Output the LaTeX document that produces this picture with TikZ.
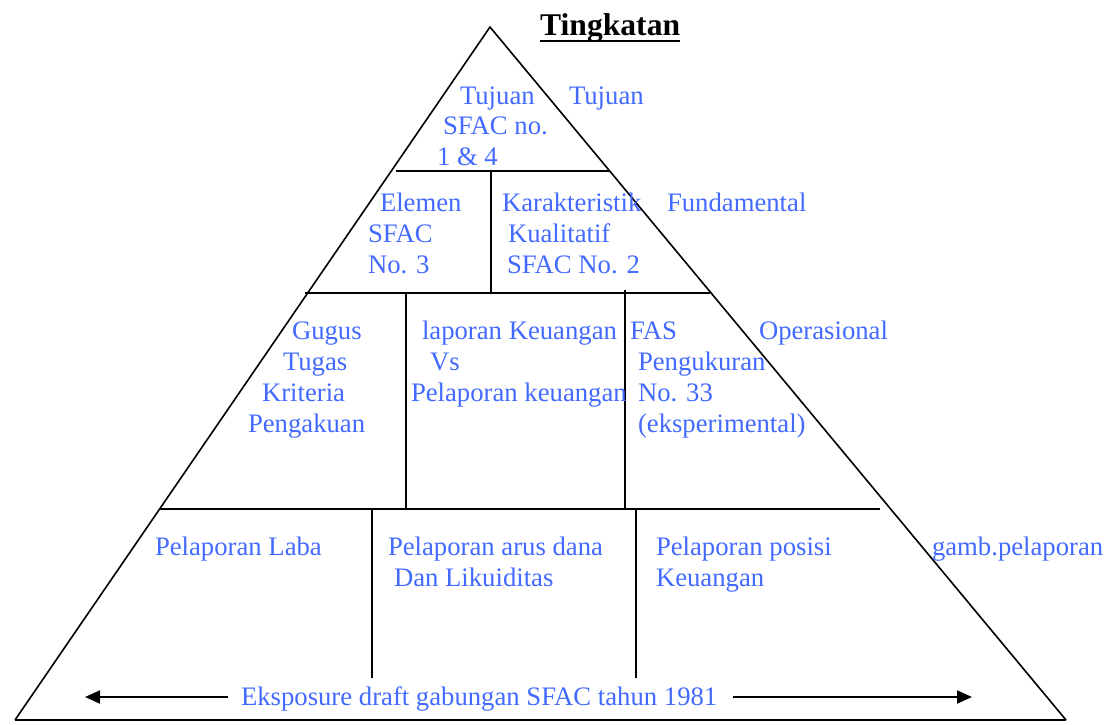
\documentclass[tikz,border=0pt]{standalone}
\usepackage{fontspec}
\setmainfont{Liberation Serif}
\usetikzlibrary{arrows.meta}
\definecolor{txtblue}{RGB}{66,106,255}
\tikzset{
  lbl/.style={anchor=base west, inner sep=0pt, outer sep=0pt, text=txtblue, font=\fontsize{26.7}{30}\selectfont},
  edge/.style={draw=black, line width=1.6pt},
  hline/.style={draw=black, line width=2.4pt},
  vline/.style={draw=black, line width=1.6pt},
  arr/.style={draw=black, line width=2pt, -{Triangle[length=15pt,width=13pt]}}
}
\begin{document}
\begin{tikzpicture}[x=1pt,y=-1pt]
\useasboundingbox (0,0) rectangle (1109,724);
% triangle
\coordinate (apex) at (490,27);
\coordinate (bl) at (15,720);
\coordinate (br) at (1066,720);
\draw[edge] (bl) -- (apex) -- (br);
\draw[hline] (bl) -- (br);
% horizontal dividers
\coordinate (h1l) at (396,171); \coordinate (h1r) at (610,171);
\coordinate (h2l) at (305,293); \coordinate (h2r) at (710,293);
\coordinate (h3l) at (160,509); \coordinate (h3r) at (880,509);
\draw[hline] (h1l) -- (h1r);
\draw[hline] (h2l) -- (h2r);
\draw[hline] (h3l) -- (h3r);
% vertical dividers
\coordinate (v1t) at (491,171); \coordinate (v1b) at (491,293);
\coordinate (v2t) at (406,293); \coordinate (v2b) at (406,509);
\coordinate (v3t) at (625,290); \coordinate (v3b) at (625,509);
\coordinate (v4t) at (372,509); \coordinate (v4b) at (372,678);
\coordinate (v5t) at (636,509); \coordinate (v5b) at (636,678);
\draw[vline] (v1t) -- (v1b);
\draw[vline] (v2t) -- (v2b);
\draw[vline] (v3t) -- (v3b);
\draw[vline] (v4t) -- (v4b);
\draw[vline] (v5t) -- (v5b);
% title
\node[anchor=base west, inner sep=0pt, font=\fontsize{31.6}{36}\selectfont\bfseries] (title) at (540,35) {Tingkatan};
\draw[line width=2.8pt] ([yshift=-6pt]title.base west) -- ([yshift=-6pt]title.base east);
% level 1
\node[lbl] (t1a) at (460,104) {Tujuan};
\node[lbl] (t1b) at (443,134) {SFAC no.};
\node[lbl] (t1c) at (437,165) {1 \& 4};
\node[lbl] (r1) at (569,104) {Tujuan};
% level 2
\node[lbl] (e1) at (380,211) {Elemen};
\node[lbl] (e2) at (368,242) {SFAC};
\node[lbl] (e3) at (368,273) {No. 3};
\node[lbl] (k1) at (502,211) {Karakteristik};
\node[lbl] (k2) at (508,242) {Kualitatif};
\node[lbl] (k3) at (507,273) {SFAC No. 2};
\node[lbl] (r2) at (667,211) {Fundamental};
% level 3
\node[lbl] (g1) at (292,339) {Gugus};
\node[lbl] (g2) at (283,370) {Tugas};
\node[lbl] (g3) at (262,401) {Kriteria};
\node[lbl] (g4) at (248,432) {Pengakuan};
\node[lbl] (l1) at (422,339) {laporan Keuangan};
\node[lbl] (l2) at (430,370) {Vs};
\node[lbl] (l3) at (411,401) {Pelaporan keuangan};
\node[lbl] (f1) at (630,339) {FAS};
\node[lbl] (f2) at (638,370) {Pengukuran};
\node[lbl] (f3) at (638,401) {No. 33};
\node[lbl] (f4) at (638,432) {(eksperimental)};
\node[lbl] (r3) at (759,339) {Operasional};
% level 4
\node[lbl] (p1) at (155,555) {Pelaporan Laba};
\node[lbl] (p2a) at (388,555) {Pelaporan arus dana};
\node[lbl] (p2b) at (394,586) {Dan Likuiditas};
\node[lbl] (p3a) at (656,555) {Pelaporan posisi};
\node[lbl] (p3b) at (656,586) {Keuangan};
\node[lbl] (r4) at (932,555) {gamb.pelaporan};
% bottom arrow
\node[lbl] (ek) at (241,705) {Eksposure draft gabungan SFAC tahun 1981};
\coordinate (al) at (85,697);
\coordinate (ar) at (972,697);
\coordinate (ekl) at (228,697);
\coordinate (ekr) at (733,697);
\draw[arr] (ekl) -- (al);
\draw[arr] (ekr) -- (ar);
\end{tikzpicture}
\end{document}
